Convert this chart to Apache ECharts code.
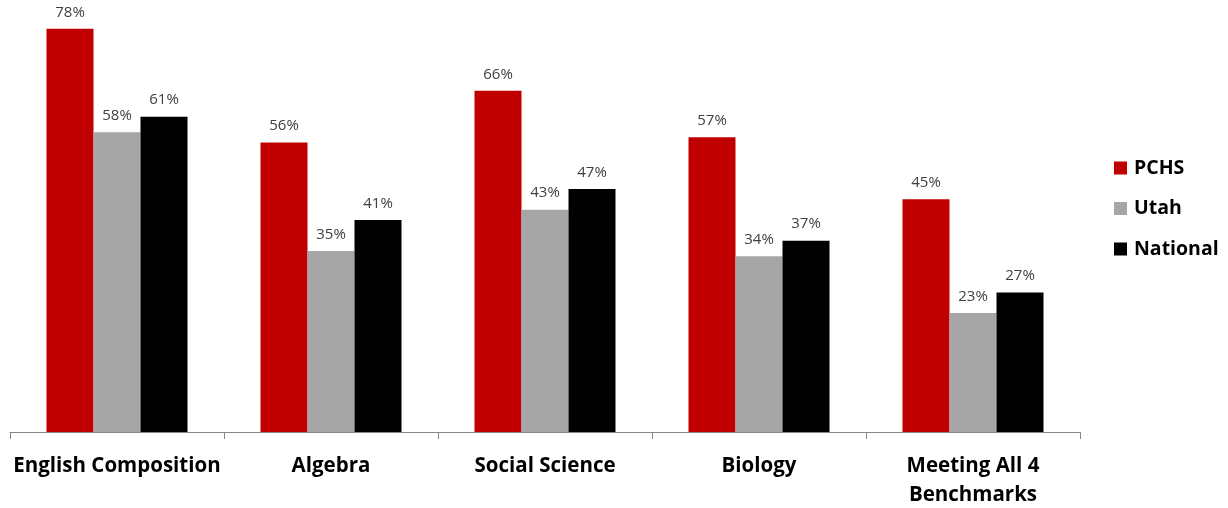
<!DOCTYPE html>
<html><head><meta charset="utf-8">
<script src="https://cdn.jsdelivr.net/npm/echarts@6/dist/echarts.min.js"></script>
<style>html,body{margin:0;padding:0;background:#fff}#c{width:1228px;height:508px}</style>
</head><body><div id="c"></div>
<script>
const categories = ['English Composition', 'Algebra', 'Social Science', 'Biology', 'Meeting All 4\nBenchmarks'];
const pchs = [78, 56, 66, 57, 45];
const utah = [58, 35, 43, 34, 23];
const national = [61, 41, 47, 37, 27];
const seriesNames = ['PCHS', 'Utah', 'National'];
const colors = ['#C00000', '#A6A6A6', '#000000'];

const chart = echarts.init(document.getElementById('c'));
const label = {show: true, position: 'top', formatter: '{c}%', color: '#404040', fontSize: 15, fontFamily: 'Open Sans', distance: 9};
chart.setOption({
  animation: false,
  grid: {left: 10, right: 148, top: 18.4, bottom: 76, containLabel: false, outerBoundsMode: 'none'},
  legend: {
    orient: 'vertical', left: 1109, top: 153, itemWidth: 13, itemHeight: 13, itemGap: 20.5,
    icon: 'rect',
    textStyle: {fontSize: 19.5, lineHeight: 20, fontWeight: 'bold', fontFamily: 'Open Sans', color: '#000', padding: [0, 0, 0, 2]},
    data: seriesNames
  },
  xAxis: {
    type: 'category', data: categories,
    axisLine: {lineStyle: {color: '#868686', width: 1}},
    axisTick: {show: true, length: 7, lineStyle: {color: '#868686'}},
    axisLabel: {fontSize: 20.5, fontWeight: 'bold', fontFamily: 'Open Sans', color: '#000', margin: 20, lineHeight: 29, interval: 0}
  },
  yAxis: {type: 'value', min: 0, max: 80, show: false, splitLine: {show: false}},
  series: [
    {name: seriesNames[0], type: 'bar', data: pchs, barWidth: 47, barGap: '0%', itemStyle: {color: colors[0]}, label},
    {name: seriesNames[1], type: 'bar', data: utah, barWidth: 47, barGap: '0%', itemStyle: {color: colors[1]}, label},
    {name: seriesNames[2], type: 'bar', data: national, barWidth: 47, barGap: '0%', itemStyle: {color: colors[2]}, label}
  ]
});
</script></body></html>
